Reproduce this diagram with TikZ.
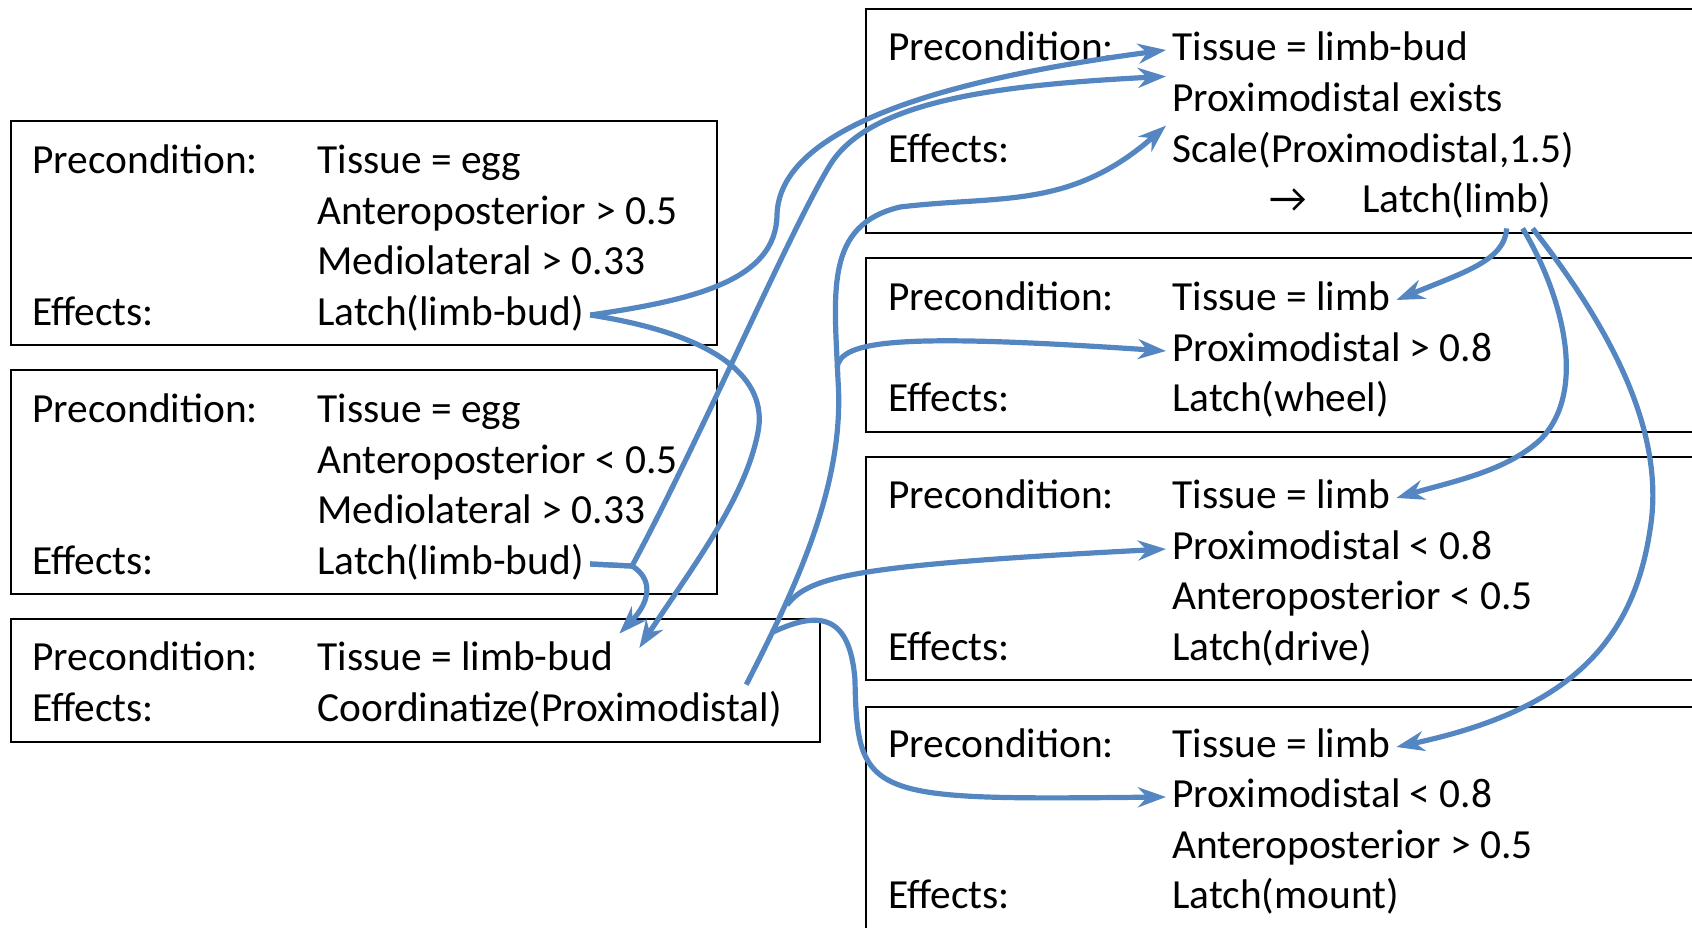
\documentclass[tikz,border=0pt]{standalone}
\usepackage{fontspec}
\setmainfont{Carlito}
\usepackage{tikz}
\usetikzlibrary{arrows.meta}
\definecolor{linkblue}{RGB}{84,134,194}
\tikzstyle{rulebox}=[draw=black,line width=1pt]
\tikzstyle{txt}=[anchor=base west,inner sep=3pt,text height=15pt,text depth=5pt,font=\fontsize{20.7}{25}\selectfont]
\tikzstyle{link}=[draw=linkblue,line width=2.6pt,-{Stealth[length=14pt,width=10pt,inset=4.5pt]}]

\begin{document}
\begin{tikzpicture}[x=0.5pt,y=-0.5pt]
\useasboundingbox (0,0) rectangle (1692,927);

\draw[rulebox] (11,121) rectangle (717,345);
\draw[rulebox] (11,370) rectangle (717,594);
\draw[rulebox] (11,619) rectangle (820,742);
\draw[rulebox] (866,9) rectangle (1720,233);
\draw[rulebox] (866,258) rectangle (1720,432);
\draw[rulebox] (866,457) rectangle (1720,680);
\draw[rulebox] (866,707) rectangle (1720,960);

\node[txt] (egga-l1) at (26,173) {Precondition:};
\node[txt] (egga-c1) at (311,173) {Tissue = egg};
\node[txt] (egga-c2) at (311,224) {Anteroposterior > 0.5};
\node[txt] (egga-c3) at (311,274) {Mediolateral > 0.33};
\node[txt] (egga-l2) at (26,325) {Effects:};
\node[txt] (egga-eff) at (311,325) {Latch(limb-bud)};

\node[txt] (eggp-l1) at (26,422) {Precondition:};
\node[txt] (eggp-c1) at (311,422) {Tissue = egg};
\node[txt] (eggp-c2) at (311,473) {Anteroposterior < 0.5};
\node[txt] (eggp-c3) at (311,523) {Mediolateral > 0.33};
\node[txt] (eggp-l2) at (26,574) {Effects:};
\node[txt] (eggp-eff) at (311,574) {Latch(limb-bud)};

\node[txt] (bud-l1) at (26,670) {Precondition:};
\node[txt] (bud-c1) at (311,670) {Tissue = limb-bud};
\node[txt] (bud-l2) at (26,721) {Effects:};
\node[txt] (bud-eff) at (311,721) {Coordinatize(Proximodistal)};

\node[txt] (grow-l1) at (882,60) {Precondition:};
\node[txt] (grow-c1) at (1166,60) {Tissue = limb-bud};
\node[txt] (grow-c2) at (1166,111) {Proximodistal exists};
\node[txt] (grow-l2) at (882,162) {Effects:};
\node[txt] (grow-c3) at (1166,162) {Scale(Proximodistal,1.5)};
\node[txt] (grow-ar) at (1263,212) {→};
\node[txt] (grow-e2) at (1356,212) {Latch(limb)};

\node[txt] (wheel-l1) at (882,310) {Precondition:};
\node[txt] (wheel-c1) at (1166,310) {Tissue = limb};
\node[txt] (wheel-c2) at (1166,361) {Proximodistal > 0.8};
\node[txt] (wheel-l2) at (882,411) {Effects:};
\node[txt] (wheel-eff) at (1166,411) {Latch(wheel)};

\node[txt] (drive-l1) at (882,508) {Precondition:};
\node[txt] (drive-c1) at (1166,508) {Tissue = limb};
\node[txt] (drive-c2) at (1166,559) {Proximodistal < 0.8};
\node[txt] (drive-c3) at (1166,609) {Anteroposterior < 0.5};
\node[txt] (drive-l2) at (882,660) {Effects:};
\node[txt] (drive-eff) at (1166,660) {Latch(drive)};

\node[txt] (mount-l1) at (882,757) {Precondition:};
\node[txt] (mount-c1) at (1166,757) {Tissue = limb};
\node[txt] (mount-c2) at (1166,807) {Proximodistal < 0.8};
\node[txt] (mount-c3) at (1166,858) {Anteroposterior > 0.5};
\node[txt] (mount-l2) at (882,908) {Effects:};
\node[txt] (mount-eff) at (1166,908) {Latch(mount)};

\coordinate (j2) at (837,368);
\coordinate (j3) at (787,605);
\coordinate (j4) at (773,632);

\draw[link] (egga-eff.east) .. controls (695,300) and (776,280) .. (777,215) .. controls (779,140) and (900,85) .. (grow-c1.west);
\draw[link] (egga-eff.east) .. controls (720,335) and (768,380) .. (758,432) .. controls (745,500) and (690,570) .. ([xshift=10pt,yshift=6pt]bud-c1.east);
\draw[link] (eggp-eff.east) -- (632,566) .. controls (700,440) and (790,230) .. (830,165) .. controls (870,100) and (1000,85) .. (grow-c1.south west);
\draw[link] (eggp-eff.east) -- (632,566) .. controls (652,578) and (652,600) .. (bud-c1.north east);

\draw[link] ([xshift=-21pt]bud-eff.north east) .. controls (800,580) and (845,480) .. (838,380) .. controls (834,290) and (825,225) .. (900,207) .. controls (1000,195) and (1070,210) .. (grow-c3.north west);
\draw[link] (j2) .. controls (840,340) and (900,333) .. (wheel-c2.west);
\draw[link] (j3) .. controls (810,575) and (860,565) .. (drive-c2.west);
\draw[link] (j4) .. controls (820,610) and (850,615) .. (855,680) .. controls (857,800) and (870,800) .. (mount-c2.west);

\draw[link] ([xshift=25pt]grow-e2.south) .. controls (1505,260) and (1465,272) .. (wheel-c1.east);
\draw[link] ([xshift=33pt]grow-e2.south) .. controls (1560,290) and (1590,390) .. (1540,440) .. controls (1505,472) and (1450,482) .. (drive-c1.east);
\draw[link] ([xshift=38pt]grow-e2.south) .. controls (1620,340) and (1665,440) .. (1650,530) .. controls (1632,650) and (1560,712) .. (mount-c1.east);

\end{tikzpicture}
\end{document}
